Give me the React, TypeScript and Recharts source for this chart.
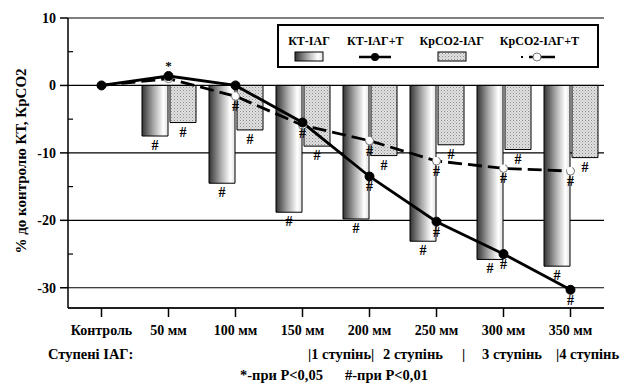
import React from 'react';
import {
  ComposedChart, Bar, Line, XAxis, YAxis, CartesianGrid, LabelList,
} from 'recharts';

const categories = ['Контроль', '50 мм', '100 мм', '150 мм', '200 мм', '250 мм', '300 мм', '350 мм'];
const ktIag = [0, -7.5, -14.5, -18.8, -19.8, -23.1, -25.8, -26.8];
const ktIagT = [0, 1.4, 0, -5.5, -13.5, -20.2, -25.0, -30.3];
const crIag = [0, -5.5, -6.6, -9.0, -10.4, -8.8, -9.5, -10.7];
const crIagT = [0, 1.0, -1.6, -5.9, -8.2, -11.2, -12.3, -12.7];

// significance marks
const ktIagMarks = ['', '#', '#', '#', '#', '#', '#', '#'];
const crIagMarks = ['', '#', '#', '#', '#', '#', '#', '#'];
const ktIagTMarks = ['', '*', '', '#', '#', '#', '#', '#'];
const crIagTMarks = ['', '', '#', '', '#', '#', '#', '#'];

const majorTicks = [10, 0, -10, -20, -30];
const allTicks = [10, 5, 0, -5, -10, -15, -20, -25, -30];
const seriesNames = ['КТ-ІАГ', 'КТ-ІАГ+Т', 'КрСО2-ІАГ', 'КрСО2-ІАГ+Т'];

const data = categories.map((cat, i) => ({
  cat,
  ktIag: ktIag[i],
  ktIagT: ktIagT[i],
  crIag: crIag[i],
  crIagT: crIagT[i],
  ktIagMark: ktIagMarks[i],
  crIagMark: crIagMarks[i],
  ktIagTMark: ktIagTMarks[i],
  crIagTMark: crIagTMarks[i],
}));

const FONT = '"Liberation Serif", "Times New Roman", serif';

const barMark = (props: any) => {
  const { x, y, width, height, value } = props;
  if (!value) return null;
  const bottom = Math.max(y, y + height);
  return (
    <text x={x + width / 2} y={bottom + 14} textAnchor="middle" fontFamily={FONT} fontWeight="bold" fontSize={14} fill="#000">
      {value}
    </text>
  );
};

const pointMark = (props: any) => {
  const { x, y, value } = props;
  if (!value) return null;
  if (value === '*') {
    return (
      <text x={x} y={y - 6} textAnchor="middle" fontFamily={FONT} fontWeight="bold" fontSize={13} fill="#000">*</text>
    );
  }
  return (
    <text x={x} y={y + 15} textAnchor="middle" fontFamily={FONT} fontWeight="bold" fontSize={14} fill="#000">
      {value}
    </text>
  );
};

// major ticks outward with label, minor ticks inward without
const YTick = (props: any) => {
  const { x, y, payload } = props;
  const axisX = x + 12;
  const v = payload.value;
  if (majorTicks.includes(v)) {
    return (
      <g>
        <line x1={axisX - 8} y1={y} x2={axisX} y2={y} stroke="#000" strokeWidth={1.5} />
        <text x={axisX - 12} y={y} dy="0.35em" textAnchor="end" fontFamily={FONT} fontWeight="bold" fontSize={14} fill="#000">
          {v}
        </text>
      </g>
    );
  }
  return <line x1={axisX} y1={y} x2={axisX + 5} y2={y} stroke="#000" strokeWidth={1.2} />;
};

const LegendBox = () => (
  <div
    style={{
      position: 'absolute', left: 277, top: 24, width: 310, height: 40,
      border: '2px solid #000', background: '#fff', display: 'flex',
      paddingLeft: 8, gap: 16, boxSizing: 'content-box',
      fontFamily: FONT, fontWeight: 'bold', fontSize: 12,
    }}
  >
    {seriesNames.map((name, i) => (
      <div key={name} style={{ display: 'flex', flexDirection: 'column', alignItems: 'center', paddingTop: 8 }}>
        <div style={{ whiteSpace: 'nowrap', lineHeight: '14px' }}>{name}</div>
        <svg width={44} height={14} style={{ marginTop: 2 }}>
          {i === 0 && <rect x={8} y={2} width={28} height={9} fill="url(#gradKT)" stroke="#000" strokeWidth={1} />}
          {i === 1 && (
            <g>
              <line x1={6} y1={7} x2={38} y2={7} stroke="#000" strokeWidth={2.5} />
              <circle cx={22} cy={7} r={4} fill="#000" />
            </g>
          )}
          {i === 2 && <rect x={8} y={2} width={28} height={9} fill="url(#hatchCr)" stroke="#000" strokeWidth={1} />}
          {i === 3 && (
            <g>
              <rect x={4} y={6} width={2} height={2} fill="#000" />
              <line x1={12} y1={7} x2={38} y2={7} stroke="#000" strokeWidth={2.5} />
              <circle cx={20} cy={7} r={4} fill="#fff" stroke="#777" strokeWidth={1} />
            </g>
          )}
        </svg>
      </div>
    ))}
  </div>
);

export default function App() {
  return (
    <div style={{ position: 'absolute', left: 0, top: 0, width: 630, height: 383, background: '#fff', fontFamily: FONT }}>
      <svg width={0} height={0} style={{ position: 'absolute' }}>
        <defs>
          <linearGradient id="gradKT" x1="0" y1="0" x2="1" y2="0">
            <stop offset="0%" stopColor="#333" />
            <stop offset="45%" stopColor="#aaa" />
            <stop offset="82%" stopColor="#ffffff" />
            <stop offset="100%" stopColor="#e2e2e2" />
          </linearGradient>
          <pattern id="hatchCr" width="3" height="3" patternUnits="userSpaceOnUse">
            <rect width="3" height="3" fill="#e0e0e0" />
            <rect x="0" y="0" width="1" height="1" fill="#8e8e8e" />
            <rect x="1.5" y="1.5" width="1" height="1" fill="#adadad" />
          </pattern>
        </defs>
      </svg>
      <ComposedChart
        width={630}
        height={383}
        data={data}
        margin={{ top: 18, right: 26, bottom: 45, left: 18 }}
        barSize={26}
        barGap={2}
      >
        <CartesianGrid vertical={false} stroke="#000" strokeWidth={1.2} yAxisId="grid" />
        <XAxis
          dataKey="cat"
          height={30}
          tickSize={9}
          tickMargin={8}
          axisLine={{ stroke: '#000', strokeWidth: 1.5 }}
          tickLine={{ stroke: '#000', strokeWidth: 1.5 }}
          tick={{ fill: '#000', fontFamily: FONT, fontWeight: 'bold', fontSize: 14 }}
          interval={0}
        />
        <XAxis xAxisId="top" dataKey="cat" orientation="top" height={0} tick={false} tickLine={false} axisLine={{ stroke: '#000', strokeWidth: 1.5 }} />
        <YAxis
          domain={[-33, 10]}
          ticks={allTicks}
          interval={0}
          width={50}
          tickSize={8}
          tickMargin={4}
          allowDataOverflow
          axisLine={{ stroke: '#000', strokeWidth: 1.5 }}
          tickLine={false}
          tick={<YTick />}
        />
        <YAxis yAxisId="grid" hide domain={[-33, 10]} ticks={majorTicks} interval={0} allowDataOverflow />
        <YAxis yAxisId="right" orientation="right" domain={[-33, 10]} width={0} tick={false} tickLine={false} axisLine={{ stroke: '#000', strokeWidth: 1.5 }} />

        <Bar dataKey="ktIag" fill="url(#gradKT)" stroke="#000" strokeWidth={1} isAnimationActive={false}>
          <LabelList dataKey="ktIagMark" content={barMark} />
        </Bar>
        <Bar dataKey="crIag" fill="url(#hatchCr)" stroke="#000" strokeWidth={1} isAnimationActive={false}>
          <LabelList dataKey="crIagMark" content={barMark} />
        </Bar>
        <Line
          dataKey="crIagT"
          type="linear"
          stroke="#000"
          strokeWidth={2.8}
          strokeDasharray="14 6"
          dot={{ r: 4, fill: '#fff', stroke: '#777', strokeWidth: 1 }}
          isAnimationActive={false}
        >
          <LabelList dataKey="crIagTMark" content={pointMark} />
        </Line>
        <Line
          dataKey="ktIagT"
          type="linear"
          stroke="#000"
          strokeWidth={2.8}
          dot={{ r: 4.5, fill: '#000', stroke: '#000', strokeWidth: 1 }}
          isAnimationActive={false}
        >
          <LabelList dataKey="ktIagTMark" content={pointMark} />
        </Line>
      </ComposedChart>
      <LegendBox />
      <svg width={630} height={383} style={{ position: 'absolute', left: 0, top: 0, pointerEvents: 'none' }}>
        <g fontFamily={FONT} fontWeight="bold" fill="#000">
          <text transform="translate(26,161) rotate(-90)" textAnchor="middle" fontSize={15}>% до контролю КТ,  КрСО2</text>
          <text x={48} y={359} fontSize={14.5}>Ступені ІАГ:</text>
          <text x={308} y={359} fontSize={14.5}>|1 ступінь|</text>
          <text x={383} y={359} fontSize={14.5}>2 ступінь</text>
          <text x={462} y={359} fontSize={14.5}>|</text>
          <text x={482} y={359} fontSize={14.5}>3 ступінь</text>
          <text x={556} y={359} fontSize={14.5}>|4 ступінь</text>
          <text x={240} y={380} fontSize={14.5}>*-при P&lt;0,05</text>
          <text x={345} y={380} fontSize={14.5}>#-при P&lt;0,01</text>
        </g>
      </svg>
    </div>
  );
}
